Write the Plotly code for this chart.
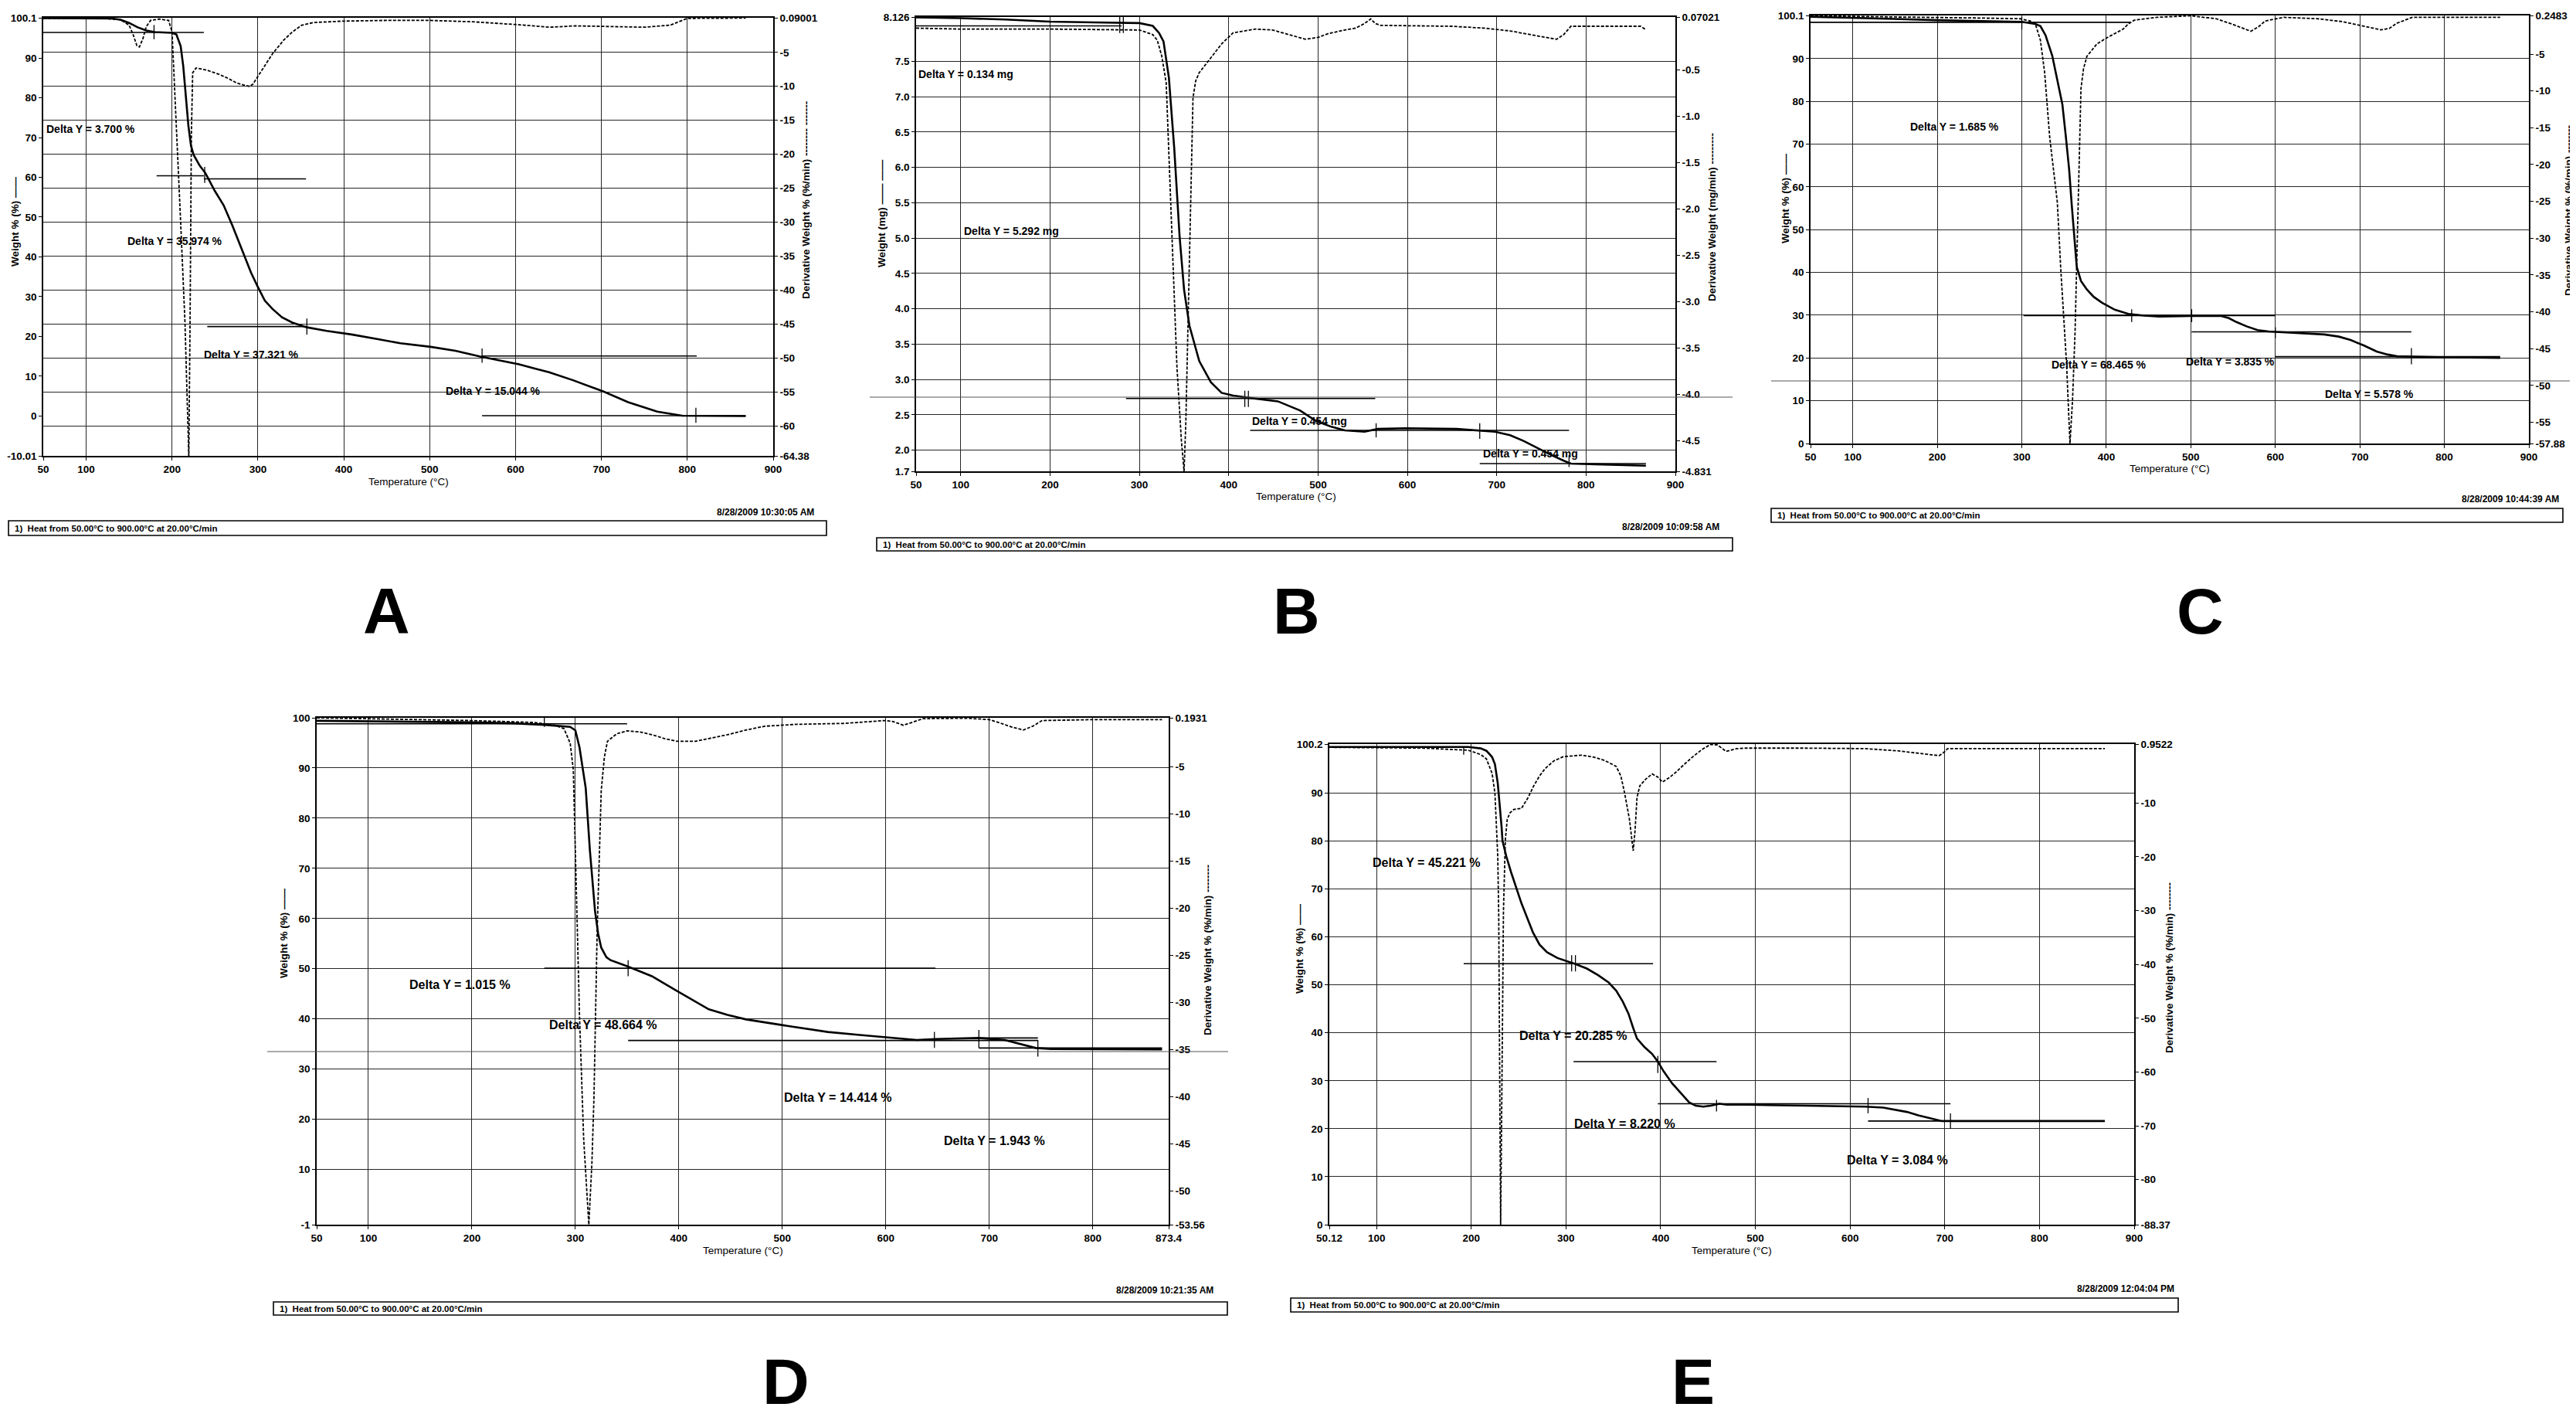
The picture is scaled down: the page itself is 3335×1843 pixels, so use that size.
import plotly.graph_objects as go

FIG_W, FIG_H = 3335, 1843
FONT = "Liberation Sans, Arial, sans-serif"

# ---------------- shared text ----------------
method_text = "1)  Heat from 50.00°C to 900.00°C at 20.00°C/min"
x_ticks_900 = ["50", "100", "200", "300", "400", "500", "600", "700", "800", "900"]

# ---------------- panel A ----------------
a_weight = [(50, 100.0), (100, 100.0), (130, 99.9), (140, 99.6), (150, 98.8), (160, 97.7), (170, 96.9),
            (180, 96.5), (200, 96.3), (205, 95.9), (210, 93.0), (213, 88.0), (216, 80.0), (219, 73.0),
            (222, 68.0), (225, 65.7), (232, 63.0), (239, 61.0), (250, 56.5), (260, 53.0), (270, 48.0),
            (283, 41.0), (292, 36.0), (300, 32.4), (308, 29.0), (317, 26.9), (328, 24.8), (340, 23.5),
            (357, 22.3), (380, 21.4), (409, 20.5), (440, 19.3), (466, 18.3), (501, 17.4), (530, 16.4),
            (558, 15.0), (580, 14.0), (604, 13.0), (625, 11.8), (639, 11.0), (667, 9.0), (702, 6.2),
            (731, 3.5), (765, 1.1), (794, 0.1), (830, 0.0), (868, 0.0)]
a_deriv = [(50, 0.0), (120, 0.0), (140, -0.2), (150, -1.0), (155, -2.5), (159, -4.0), (162, -4.2),
           (166, -3.0), (170, -1.2), (175, -0.3), (185, -0.1), (196, -0.3), (200, -2.0), (205, -17.0),
           (210, -30.0), (215, -44.6), (218, -60.0), (219.5, -64.38), (221, -44.0), (222.5, -17.0),
           (224, -8.0), (228, -7.3), (240, -7.6), (254, -8.2), (265, -8.8), (275, -9.5), (283, -9.8),
           (290, -10.0), (294, -9.7), (300, -8.5), (310, -6.5), (317, -5.2), (330, -3.2), (340, -2.0),
           (351, -1.0), (365, -0.6), (400, -0.4), (450, -0.3), (500, -0.3), (550, -0.5), (600, -0.9),
           (640, -1.3), (670, -1.1), (700, -1.2), (750, -1.3), (780, -1.0), (800, 0.0), (868, 0.05)]
a_steps = [(50, 237, 96.4), (182, 237, 60.4), (237, 356, 59.6), (241, 356, 22.5), (561, 811, 15.1), (561, 868, 0.1)]
a_marks = [(179, 94.7, 98.3), (238, 58.6, 62.6), (357, 20.5, 24.5), (561, 13.4, 17.0), (810, -1.7, 2.1)]
a_notes = [(52, 72.2, "Delta Y = 3.700 %"), (146, 44.0, "Delta Y = 35.974 %"),
           (235, 15.5, "Delta Y = 37.321 %"), (517, 6.4, "Delta Y = 15.044 %")]
a_left_ticks = ["-10.01", "0", "10", "20", "30", "40", "50", "60", "70", "80", "90", "100.1"]
a_right_ticks = ["-64.38", "-60", "-55", "-50", "-45", "-40", "-35", "-30", "-25", "-20", "-15", "-10", "-5", "0.09001"]
a_stamp = "8/28/2009 10:30:05 AM"

# ---------------- panel B ----------------
b_weight = [(50, 8.12), (100, 8.11), (150, 8.09), (200, 8.06), (250, 8.05), (300, 8.04), (315, 8.0),
            (322, 7.9), (327, 7.78), (333, 7.27), (339, 6.27), (345, 5.02), (350, 4.27), (356, 3.76),
            (367, 3.26), (380, 2.96), (392, 2.81), (405, 2.77), (423, 2.74), (455, 2.69), (480, 2.56),
            (498, 2.41), (515, 2.33), (530, 2.28), (552, 2.26), (567, 2.30), (598, 2.31), (655, 2.30),
            (698, 2.26), (715, 2.21), (730, 2.13), (745, 2.03), (761, 1.93), (775, 1.85), (783, 1.81),
            (811, 1.80), (867, 1.78)]
b_deriv = [(50, -0.05), (100, -0.06), (200, -0.06), (300, -0.07), (315, -0.12), (320, -0.18), (325, -0.35),
           (330, -0.64), (336, -2.17), (342, -3.7), (347, -4.5), (350, -4.83), (352, -4.3), (355, -2.94),
           (358, -1.5), (360, -0.8), (363, -0.62), (367, -0.53), (380, -0.37), (392, -0.22), (405, -0.1),
           (430, -0.06), (449, -0.07), (470, -0.13), (486, -0.17), (500, -0.15), (511, -0.11), (530, -0.07),
           (542, -0.05), (552, 0.0), (559, 0.05), (564, 0.0), (570, -0.02), (650, -0.03), (686, -0.05),
           (715, -0.08), (736, -0.12), (755, -0.15), (767, -0.17), (775, -0.12), (783, -0.03), (861, -0.03),
           (866, -0.06)]
b_steps = [(50, 280, 8.0), (285, 564, 2.73), (424, 781, 2.28), (681, 867, 1.81)]
b_marks = [(278, 7.9, 8.126), (282, 7.9, 8.126), (418, 2.61, 2.84), (422, 2.61, 2.84),
           (565, 2.18, 2.38), (681, 2.16, 2.38), (781, 1.76, 1.93)]
b_notes = [(51, 7.32, "Delta Y = 0.134 mg"), (102, 5.1, "Delta Y = 5.292 mg"),
           (424, 2.41, "Delta Y = 0.454 mg"), (683, 1.95, "Delta Y = 0.454 mg")]
b_left_ticks = ["1.7", "2.0", "2.5", "3.0", "3.5", "4.0", "4.5", "5.0", "5.5", "6.0", "6.5", "7.0", "7.5", "8.126"]
b_right_ticks = ["-4.831", "-4.5", "-4.0", "-3.5", "-3.0", "-2.5", "-2.0", "-1.5", "-1.0", "-0.5", "0.07021"]
b_stamp = "8/28/2009 10:09:58 AM"

# ---------------- panel C ----------------
c_weight = [(50, 99.8), (100, 99.6), (150, 99.3), (200, 99.0), (250, 98.8), (300, 98.6), (310, 98.3),
            (316, 98.1), (322, 97.6), (328, 95.5), (336, 90.7), (342, 85.0), (348, 79.3), (352, 72.0),
            (356, 64.1), (359, 56.0), (362, 48.9), (365, 41.3), (370, 38.0), (377, 36.0), (385, 34.3),
            (395, 32.9), (410, 31.3), (426, 30.3), (445, 29.9), (463, 29.7), (500, 29.8), (536, 29.8),
            (545, 29.3), (554, 28.4), (566, 27.4), (579, 26.5), (592, 26.2), (603, 26.1), (630, 25.8),
            (658, 25.5), (675, 25.0), (689, 24.2), (705, 22.9), (720, 21.5), (733, 20.8), (744, 20.4),
            (793, 20.2), (866, 20.0)]
c_deriv = [(50, 0.2), (100, 0.1), (181, 0.0), (250, -0.1), (298, -0.2), (310, -0.5), (316, -0.9),
           (322, -3.1), (327, -7.5), (333, -16.3), (342, -25.1), (346, -34.0), (353, -47.2), (357, -57.88),
           (360, -52.0), (363, -42.8), (365, -34.0), (367, -25.1), (370, -9.7), (373, -7.0), (377, -5.3),
           (389, -3.6), (402, -2.7), (420, -1.6), (426, -0.9), (433, -0.4), (460, 0.0), (500, 0.2),
           (530, -0.2), (548, -0.9), (560, -1.4), (571, -1.9), (580, -1.3), (588, -0.5), (610, 0.0),
           (650, -0.2), (680, -0.6), (701, -1.1), (715, -1.5), (725, -1.7), (735, -1.5), (744, -0.8),
           (762, 0.0), (866, 0.0)]
c_steps = [(50, 429, 98.5), (302, 600, 29.9), (501, 761, 26.1), (600, 866, 20.3)]
c_marks = [(300, 96.8, 99.8), (430, 28.4, 31.4), (501, 28.4, 31.4), (600, 24.6, 27.2), (761, 18.5, 22.3)]
c_notes = [(166, 74.0, "Delta Y = 1.685 %"), (333, 18.5, "Delta Y = 68.465 %"),
           (492, 19.2, "Delta Y = 3.835 %"), (657, 11.6, "Delta Y = 5.578 %")]
c_left_ticks = ["0", "10", "20", "30", "40", "50", "60", "70", "80", "90", "100.1"]
c_right_ticks = ["-57.88", "-55", "-50", "-45", "-40", "-35", "-30", "-25", "-20", "-15", "-10", "-5", "0.2483"]
c_stamp = "8/28/2009 10:44:39 AM"

# ---------------- panel D ----------------
d_weight = [(50, 99.4), (100, 99.3), (150, 99.2), (200, 99.1), (240, 98.9), (270, 98.6), (295, 98.2),
            (300, 97.5), (304, 94.1), (307, 90.0), (310, 86.0), (314, 73.7), (319, 61.5), (322, 57.0),
            (325, 54.2), (330, 52.3), (334, 51.7), (350, 50.5), (374, 48.5), (398, 45.6), (415, 43.5),
            (429, 41.9), (447, 40.8), (465, 39.9), (502, 38.7), (544, 37.4), (575, 36.8), (599, 36.4),
            (630, 35.8), (648, 36.0), (690, 36.2), (715, 35.8), (730, 35.0), (745, 34.2), (760, 34.0),
            (788, 34.0), (867, 33.9)]
d_deriv = [(50, 0.19), (100, 0.1), (200, -0.1), (260, -0.3), (280, -0.6), (289, -0.96), (295, -2.5),
           (298, -5.3), (301, -18.3), (304, -31.4), (308, -44.4), (313, -53.56), (316, -47.0), (318, -40.0),
           (321, -22.7), (323, -14.0), (325, -7.5), (328, -4.0), (331, -2.3), (340, -1.5), (350, -1.2),
           (362, -1.3), (374, -1.6), (386, -2.0), (398, -2.3), (416, -2.3), (430, -2.0), (447, -1.6),
           (465, -1.1), (483, -0.7), (514, -0.5), (560, -0.4), (599, -0.1), (607, -0.2), (617, -0.6),
           (625, -0.3), (636, 0.1), (678, 0.15), (700, 0.0), (709, -0.3), (722, -0.8), (733, -1.1),
           (742, -0.7), (751, -0.1), (800, 0.0), (867, 0.0)]
d_steps = [(50, 350, 98.8), (270, 648, 50.1), (351, 747, 35.7), (690, 747, 36.2), (690, 867, 34.2)]
d_marks = [(270, 98.2, 100.0), (351, 48.5, 51.7), (647, 34.2, 37.4), (690, 34.2, 37.8), (747, 32.5, 35.8)]
d_notes = [(138, 46.8, "Delta Y = 1.015 %"), (273, 38.8, "Delta Y = 48.664 %"),
           (500, 24.4, "Delta Y = 14.414 %"), (655, 15.7, "Delta Y = 1.943 %")]
d_x_ticks = ["50", "100", "200", "300", "400", "500", "600", "700", "800", "873.4"]
d_left_ticks = ["-1", "10", "20", "30", "40", "50", "60", "70", "80", "90", "100"]
d_right_ticks = ["-53.56", "-50", "-45", "-40", "-35", "-30", "-25", "-20", "-15", "-10", "-5", "0.1931"]
d_stamp = "8/28/2009 10:21:35 AM"

# ---------------- panel E ----------------
e_weight = [(50.12, 99.6), (100, 99.6), (150, 99.6), (197, 99.6), (210, 99.3), (216, 98.8), (222, 97.5),
            (225, 96.0), (228, 92.0), (230, 88.0), (232, 83.0), (233, 80.0), (237, 76.8), (242, 73.5),
            (247, 70.4), (253, 67.0), (259, 64.0), (265, 61.0), (272, 58.4), (280, 56.8), (291, 55.6),
            (309, 54.4), (322, 53.4), (334, 52.0), (345, 50.5), (353, 48.8), (360, 46.5), (366, 44.0),
            (371, 41.0), (375, 38.8), (383, 37.0), (391, 35.6), (397, 34.0), (403, 32.0), (412, 29.5),
            (422, 27.2), (430, 25.5), (437, 24.8), (445, 24.6), (453, 24.8), (462, 25.2), (470, 25.0),
            (491, 25.0), (553, 24.8), (616, 24.6), (635, 24.4), (647, 24.0), (660, 23.5), (672, 22.8),
            (685, 22.2), (697, 21.6), (741, 21.6), (869, 21.6)]
e_deriv = [(50.12, 0.35), (100, 0.3), (150, 0.2), (197, -0.2), (210, -1.0), (216, -1.8), (222, -4.5),
           (225, -8.2), (228, -20.0), (229, -31.0), (230, -60.0), (231, -88.37), (232.5, -60.0), (234, -30.0),
           (236, -16.8), (238, -13.0), (241, -11.8), (245, -11.2), (253, -11.0), (260, -9.0), (266, -6.8),
           (272, -5.0), (278, -3.6), (287, -2.2), (297, -1.4), (316, -1.1), (330, -1.5), (341, -2.1),
           (353, -3.2), (358, -5.0), (362, -8.2), (367, -13.0), (371, -18.9), (373, -15.0), (375, -9.0),
           (378, -6.8), (384, -5.6), (391, -4.6), (397, -5.2), (402, -6.1), (409, -5.3), (416, -4.3),
           (425, -2.8), (434, -1.4), (444, 0.0), (453, 0.9), (460, 0.8), (466, 0.0), (469, -0.4),
           (480, 0.1), (491, 0.2), (550, 0.2), (616, 0.1), (650, -0.3), (678, -0.9), (694, -1.2),
           (699, -0.6), (703, 0.1), (869, 0.1)]
e_steps = [(192, 392, 54.4), (308, 459, 34.0), (397, 706, 25.2), (619, 869, 21.6)]
e_marks = [(192, 98.0, 99.6), (306, 52.8, 56.2), (310, 52.8, 56.2), (397, 31.6, 35.2), (459, 23.6, 26.0),
           (619, 23.2, 26.4), (706, 20.0, 23.2)]
e_notes = [(94, 75.4, "Delta Y = 45.221 %"), (249, 39.4, "Delta Y = 20.285 %"),
           (307, 21.1, "Delta Y = 8.220 %"), (595, 13.4, "Delta Y = 3.084 %")]
e_x_ticks = ["50.12", "100", "200", "300", "400", "500", "600", "700", "800", "900"]
e_left_ticks = ["0", "10", "20", "30", "40", "50", "60", "70", "80", "90", "100.2"]
e_right_ticks = ["-88.37", "-80", "-70", "-60", "-50", "-40", "-30", "-20", "-10", "0.9522"]
e_stamp = "8/28/2009 12:04:04 PM"

# layout of each panel, in pixels of the page
panels = [
    dict(letter="A", box=(48, 993, 15, 582), xr=(50, 900), xt=x_ticks_900,
         lt=a_left_ticks, rt=a_right_ticks, grid="right",
         wt=a_weight, dv=a_deriv, steps=a_steps, marks=a_marks, notes=a_notes, note_size=14,
         ytitle="Weight % (%) ——", y2title="Derivative Weight % (%/min) -------- -------",
         ypos=(12, 279), y2pos=(1035, 251), stamp=a_stamp,
         foot=(1048, 655, 3, 1062, 666, 685), letter_pos=(492, 783)),
    dict(letter="B", box=(1178, 2161, 14, 602), xr=(50, 900), xt=x_ticks_900,
         lt=b_left_ticks, rt=b_right_ticks, grid="left",
         wt=b_weight, dv=b_deriv, steps=b_steps, marks=b_marks, notes=b_notes, note_size=14,
         ytitle="Weight (mg) —— ——", y2title="Derivative Weight (mg/min) ---------",
         ypos=(1133, 268), y2pos=(2208, 273), stamp=b_stamp,
         foot=(2220, 674, 1127, 2235, 688, 705), letter_pos=(1670, 783)),
    dict(letter="C", box=(2336, 3266, 12, 566), xr=(50, 900), xt=x_ticks_900,
         lt=c_left_ticks, rt=c_right_ticks, grid="left",
         wt=c_weight, dv=c_deriv, steps=c_steps, marks=c_marks, notes=c_notes, note_size=14,
         ytitle="Weight % (%) ——", y2title="Derivative Weight % (%/min) --------",
         ypos=(2304, 249), y2pos=(3318, 265), stamp=c_stamp,
         foot=(3307, 638, 2285, 3310, 650, 668), letter_pos=(2840, 783)),
    dict(letter="D", box=(402, 1505, 921, 1577), xr=(50, 873.4), xt=d_x_ticks,
         lt=d_left_ticks, rt=d_right_ticks, grid="left",
         wt=d_weight, dv=d_deriv, steps=d_steps, marks=d_marks, notes=d_notes, note_size=16,
         ytitle="Weight % (%) ——", y2title="Derivative Weight % (%/min) --------",
         ypos=(359, 1200), y2pos=(1555, 1222), stamp=d_stamp,
         foot=(1565, 1662, 346, 1581, 1677, 1694), letter_pos=(1010, 1780)),
    dict(letter="E", box=(1713, 2755, 955, 1577), xr=(50.12, 900), xt=e_x_ticks,
         lt=e_left_ticks, rt=e_right_ticks, grid="left",
         wt=e_weight, dv=e_deriv, steps=e_steps, marks=e_marks, notes=e_notes, note_size=16,
         ytitle="Weight % (%) ——", y2title="Derivative Weight % (%/min) --------",
         ypos=(1674, 1220), y2pos=(2800, 1245), stamp=e_stamp,
         foot=(2809, 1660, 1663, 2812, 1672, 1690), letter_pos=(2184, 1780)),
]

# horizontal scan streaks crossing some panels (page pixels: y, x0, x1)
scan_lines = [(506, 1118, 2235), (485, 2285, 3335), (1353, 338, 1582)]


def px(x):
    return x / FIG_W


def py(y):
    return 1 - y / FIG_H


tick_font = dict(family=FONT, size=13.5, color="black", weight="bold")
grid_color = "#262626"

fig = go.Figure()
layout = dict(width=FIG_W, height=FIG_H, margin=dict(l=0, r=0, t=0, b=0),
              paper_bgcolor="white", plot_bgcolor="white", showlegend=False,
              font=dict(family=FONT, size=13, color="black"))
shapes, annos = [], []

for i, p in enumerate(panels, start=1):
    xs = "" if i == 1 else str(i)
    yl = "" if i == 1 else str(2 * i - 1)
    yr = str(2 * i)
    x0, x1, y0, y1 = p["box"]
    lt_vals = [float(t) for t in p["lt"]]
    rt_vals = [float(t) for t in p["rt"]]

    common = dict(showline=True, linecolor="black", linewidth=1.6, ticks="outside", ticklen=4,
                  tickcolor="black", tickfont=tick_font, zeroline=False, automargin=False,
                  gridcolor=grid_color, gridwidth=1.1)
    layout["xaxis" + xs] = dict(common, domain=[px(x0), px(x1)], anchor="y" + yl, range=list(p["xr"]),
                                tickmode="array", tickvals=[float(t) for t in p["xt"]], ticktext=p["xt"],
                                mirror=True, showgrid=True)
    layout["yaxis" + yl] = dict(common, domain=[py(y1), py(y0)], anchor="x" + xs,
                                range=[lt_vals[0], lt_vals[-1]], tickmode="array",
                                tickvals=lt_vals, ticktext=p["lt"], showgrid=p["grid"] == "left")
    layout["yaxis" + yr] = dict(common, domain=[py(y1), py(y0)], anchor="x" + xs, overlaying="y" + yl,
                                side="right", range=[rt_vals[0], rt_vals[-1]], tickmode="array",
                                tickvals=rt_vals, ticktext=p["rt"], showgrid=p["grid"] == "right")

    # weight (solid) and derivative (dashed) curves
    fig.add_trace(go.Scatter(x=[t for t, _ in p["wt"]], y=[w for _, w in p["wt"]],
                             xaxis="x" + xs, yaxis="y" + yl, mode="lines", hoverinfo="skip",
                             line=dict(color="black", width=2.6)))
    fig.add_trace(go.Scatter(x=[t for t, _ in p["dv"]], y=[d for _, d in p["dv"]],
                             xaxis="x" + xs, yaxis="y" + yr, mode="lines", hoverinfo="skip",
                             line=dict(color="black", width=1.8, dash="4px,2px")))

    # step tangents and onset markers
    for t0, t1, w in p["steps"]:
        shapes.append(dict(type="line", xref="x" + xs, yref="y" + yl, x0=t0, x1=t1, y0=w, y1=w,
                           line=dict(color="black", width=1.6)))
    for t, lo, hi in p["marks"]:
        shapes.append(dict(type="line", xref="x" + xs, yref="y" + yl, x0=t, x1=t, y0=lo, y1=hi,
                           line=dict(color="black", width=1.3)))
    for t, w, txt in p["notes"]:
        annos.append(dict(x=t, y=w, xref="x" + xs, yref="y" + yl, text=txt, showarrow=False,
                          xanchor="left", yanchor="middle",
                          font=dict(family=FONT, size=p["note_size"], color="black", weight="bold")))

    # axis titles
    annos.append(dict(x=px(p["ypos"][0]), y=py(p["ypos"][1]), xref="paper", yref="paper",
                      text=p["ytitle"], textangle=-90, showarrow=False, xanchor="center", yanchor="middle",
                      font=dict(family=FONT, size=13.5, color="black", weight="bold")))
    annos.append(dict(x=px(p["y2pos"][0]), y=py(p["y2pos"][1]), xref="paper", yref="paper",
                      text=p["y2title"], textangle=-90, showarrow=False, xanchor="center", yanchor="middle",
                      font=dict(family=FONT, size=13.5, color="black", weight="bold")))
    annos.append(dict(x=px((x0 + x1) / 2), y=py(y1 + 33), xref="paper", yref="paper",
                      text="Temperature (°C)", showarrow=False, xanchor="center", yanchor="middle",
                      font=dict(family=FONT, size=13.5, color="black")))

    # footer: time stamp and method box
    sx, sy, bx0, bx1, by0, by1 = p["foot"]
    annos.append(dict(x=px(sx), y=py(sy), xref="paper", yref="paper", text=p["stamp"], showarrow=False,
                      xanchor="right", yanchor="middle",
                      font=dict(family=FONT, size=12, color="black", weight="bold")))
    shapes.append(dict(type="rect", xref="paper", yref="paper", x0=px(bx0), x1=px(bx1), y0=py(by1), y1=py(by0),
                       line=dict(color="black", width=1.6)))
    annos.append(dict(x=px(bx0 + 6), y=py((by0 + by1) / 2), xref="paper", yref="paper", text=method_text,
                      showarrow=False, xanchor="left", yanchor="middle",
                      font=dict(family=FONT, size=11.5, color="black", weight="bold")))

    # panel letter
    lx, ly = p["letter_pos"]
    annos.append(dict(x=px(lx), y=py(ly), xref="paper", yref="paper", text=p["letter"], showarrow=False,
                      xanchor="center", yanchor="middle",
                      font=dict(family=FONT, size=84, color="black", weight="bold")))

for y, xa, xb in scan_lines:
    shapes.append(dict(type="line", xref="paper", yref="paper", x0=px(xa), x1=px(xb), y0=py(y), y1=py(y),
                       line=dict(color="#555555", width=1)))

layout["shapes"] = shapes
layout["annotations"] = annos
fig.update_layout(**layout)

fig.write_html("out.html")
